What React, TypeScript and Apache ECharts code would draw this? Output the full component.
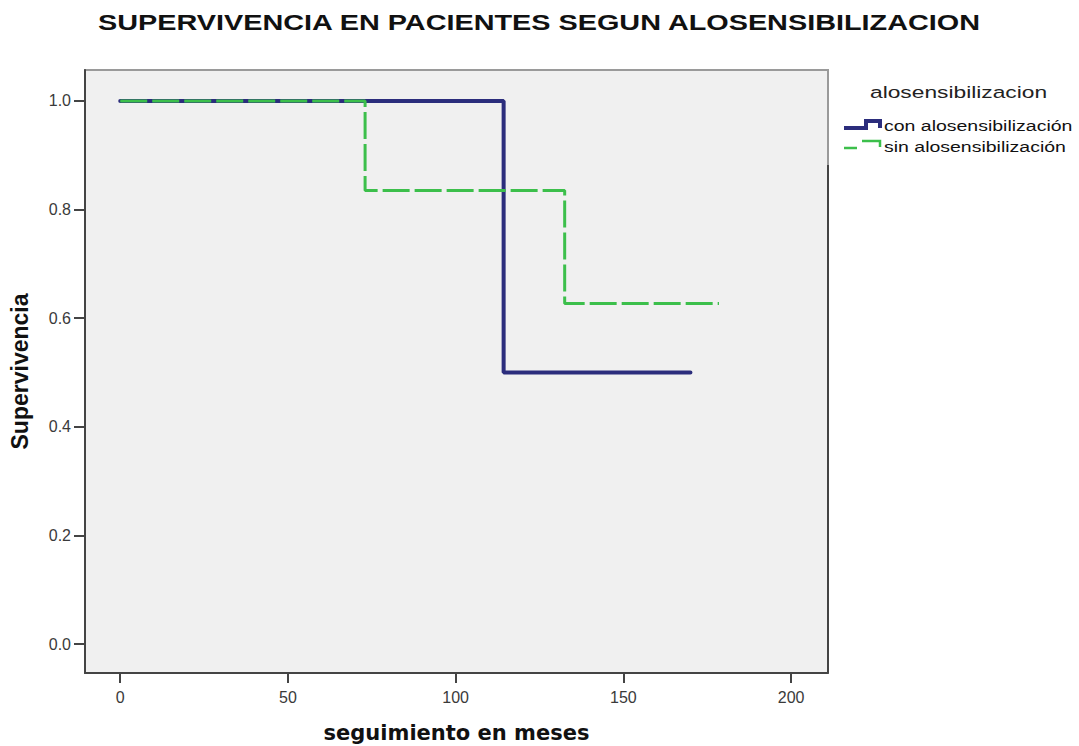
import React, { useEffect, useRef } from "react";
import * as echarts from "echarts";

const titleText = "SUPERVIVENCIA EN PACIENTES SEGUN ALOSENSIBILIZACION";
const xName = "seguimiento en meses";
const yName = "Supervivencia";
const legendTitle = "alosensibilizacion";
const seriesNames = ["con alosensibilización", "sin alosensibilización"];

const timesCon = [0, 114.3, 170];
const survCon = [1, 0.5, 0.5];
const timesSin = [0, 73, 132.5, 178.5];
const survSin = [1, 0.835, 0.627, 0.627];

const xTicks = [0, 50, 100, 150, 200];
const yTicks = [0, 0.2, 0.4, 0.6, 0.8, 1.0];

const BLUE = "#2b2d7c";
const GREEN = "#3cbf4b";

export default function App() {
  const ref = useRef<HTMLDivElement>(null);
  useEffect(() => {
    if (!ref.current) return;
    const chart = echarts.init(ref.current, null, { renderer: "svg" });
    const font = "'Liberation Sans', Arial, sans-serif";
    chart.setOption({
      animation: false,
      backgroundColor: "#ffffff",
      grid: {
        left: 85,
        right: 251,
        top: 70,
        bottom: 73,
        containLabel: false,
        outerBoundsMode: "none",
        show: true,
        backgroundColor: "#f0f0f0",
        borderColor: "#9a9a9a",
        borderWidth: 2,
      },
      xAxis: {
        type: "value",
        min: -10.5,
        max: 211,
        name: xName,
        nameLocation: "middle",
        nameGap: 49,
        nameMoveOverlap: false,
        nameTextStyle: {
          fontFamily: "'DejaVu Sans', Verdana, sans-serif",
          fontSize: 21,
          fontWeight: "bold",
          color: "#111",
        },
        splitLine: { show: false },
        axisLine: { show: true, onZero: false, lineStyle: { color: "#444", width: 2 } },
        axisTick: { show: true, inside: false, customValues: xTicks, length: 10, lineStyle: { color: "#444", width: 2 } },
        axisLabel: {
          customValues: xTicks,
          inside: false,
          fontFamily: font,
          fontSize: 16,
          color: "#3a3a3a",
          margin: 16,
        },
      },
      yAxis: {
        type: "value",
        min: -0.0534,
        max: 1.057,
        name: yName,
        nameLocation: "middle",
        nameGap: 54,
        nameMoveOverlap: false,
        nameTextStyle: { fontFamily: font, fontSize: 23, fontWeight: "bold", color: "#111" },
        splitLine: { show: false },
        axisLine: { show: true, onZero: false, lineStyle: { color: "#444", width: 2 } },
        axisTick: { show: true, inside: false, customValues: yTicks, length: 11, lineStyle: { color: "#444", width: 2 } },
        axisLabel: {
          customValues: yTicks,
          inside: false,
          formatter: (v: number) => v.toFixed(1),
          fontFamily: font,
          fontSize: 16,
          color: "#3a3a3a",
          margin: 14,
        },
      },
      series: [
        {
          name: seriesNames[0],
          type: "line",
          step: "end",
          showSymbol: false,
          data: timesCon.map((t, i) => [t, survCon[i]]),
          lineStyle: { color: BLUE, width: 4, cap: "round" },
          z: 2,
        },
        {
          name: seriesNames[1],
          type: "line",
          step: "end",
          showSymbol: false,
          data: timesSin.map((t, i) => [t, survSin[i]]),
          lineStyle: { color: GREEN, width: 3, type: [27, 5] },
          z: 3,
        },
      ],
      graphic: [
        {
          type: "text",
          x: 539,
          y: 22,
          scaleX: 1.31,
          style: {
            text: titleText,
            x: 0,
            y: 0,
            align: "center",
            verticalAlign: "middle",
            font: `bold 22px ${font}`,
            fill: "#111",
          },
        },
        {
          type: "line",
          shape: { x1: 828, y1: 165, x2: 828, y2: 673 },
          style: { stroke: "#444", lineWidth: 2 },
        },
        {
          type: "text",
          x: 870,
          y: 92,
          scaleX: 1.34,
          style: { text: legendTitle, x: 0, y: 0, verticalAlign: "middle", font: `17px ${font}`, fill: "#222" },
        },
        {
          type: "polyline",
          shape: { points: [[844, 128], [866, 128], [866, 121], [880, 121], [880, 128]] },
          style: { stroke: BLUE, lineWidth: 4, fill: "none" },
        },
        {
          type: "text",
          x: 884,
          y: 126,
          scaleX: 1.3,
          style: { text: seriesNames[0], x: 0, y: 0, verticalAlign: "middle", font: `15px ${font}`, fill: "#111" },
        },
        {
          type: "polyline",
          shape: { points: [[844, 148], [857, 148]] },
          style: { stroke: GREEN, lineWidth: 2.5, fill: "none" },
        },
        {
          type: "polyline",
          shape: { points: [[862, 141], [880, 141], [880, 147]] },
          style: { stroke: GREEN, lineWidth: 2.5, fill: "none" },
        },
        {
          type: "text",
          x: 884,
          y: 147,
          scaleX: 1.3,
          style: { text: seriesNames[1], x: 0, y: 0, verticalAlign: "middle", font: `15px ${font}`, fill: "#111" },
        },
      ],
    });
    return () => chart.dispose();
  }, []);
  return <div ref={ref} style={{ width: 1079, height: 746, position: "absolute", left: 0, top: 0 }} />;
}
